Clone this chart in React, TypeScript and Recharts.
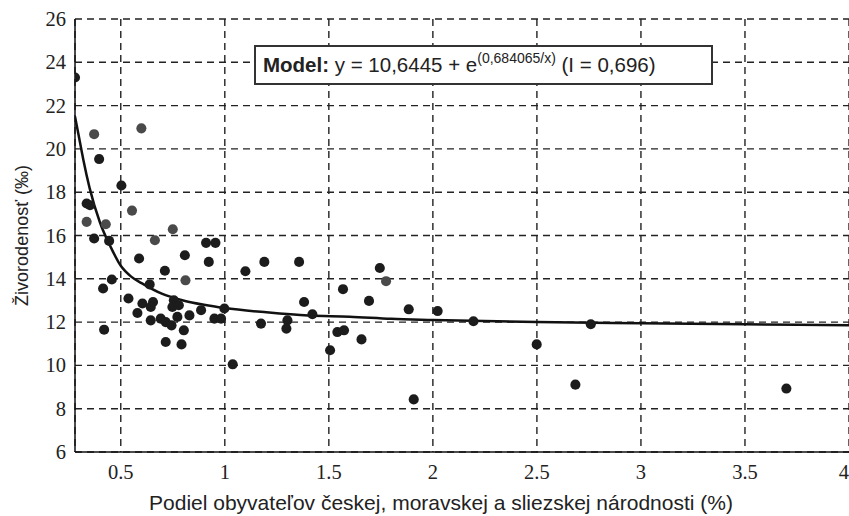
import React from 'react';
import {
  ComposedChart,
  Scatter,
  Line,
  XAxis,
  YAxis,
  ZAxis,
  CartesianGrid,
} from 'recharts';

// okresy - tmavé body
const darkX = [
  0.28, 0.396, 0.503, 0.336, 0.352, 0.372, 0.444, 0.91, 0.955, 0.588, 0.808, 0.923,
  1.19, 1.357, 0.712, 1.099, 0.457, 0.415, 0.639, 1.568, 0.537, 0.604, 0.655, 0.644,
  0.58, 0.755, 0.748, 0.779, 0.644, 0.692, 0.716, 0.772, 0.744, 0.803, 0.83, 0.42,
  0.716, 0.792, 0.886, 0.998, 0.95, 0.982, 1.174, 1.381, 1.421, 1.301, 1.296, 1.541,
  1.573, 1.506, 1.038, 1.745, 1.693, 1.884, 2.023, 2.195, 1.657, 1.908, 2.499, 2.685,
  2.759, 3.699,
];
const darkY = [
  23.3, 19.53, 18.31, 17.48, 17.4, 15.86, 15.75, 15.66, 15.66, 14.94, 15.09, 14.78,
  14.78, 14.78, 14.37, 14.35, 13.97, 13.55, 13.74, 13.52, 13.09, 12.86, 12.93, 12.7,
  12.42, 13.01, 12.7, 12.78, 12.08, 12.16, 12.0, 12.24, 11.85, 11.62, 12.31, 11.65,
  11.08, 10.97, 12.55, 12.63, 12.16, 12.16, 11.93, 12.93, 12.36, 12.08, 11.7, 11.54,
  11.62, 10.7, 10.05, 14.5, 12.98, 12.59, 12.51, 12.04, 11.2, 8.43, 10.97, 9.11,
  11.9, 8.93,
];

// svetlejšie body
const grayX = [0.372, 0.599, 0.554, 0.336, 0.428, 0.75, 0.664, 0.811, 1.775];
const grayY = [20.68, 20.95, 17.15, 16.63, 16.52, 16.29, 15.78, 13.93, 13.89];

// krivka modelu odčítaná z grafu
const curveX = [0.28, 0.3, 0.32, 0.35, 0.4, 0.45, 0.5, 0.55, 0.6, 0.7, 0.8, 0.9, 1.0, 1.2, 1.4, 1.6, 1.8, 2.0, 2.5, 3.0, 3.5, 4.0];
const curveY = [21.5, 20.5, 19.5, 18.2, 16.6, 15.5, 14.6, 14.1, 13.8, 13.3, 13.0, 12.8, 12.65, 12.45, 12.3, 12.25, 12.15, 12.1, 12.0, 11.95, 11.9, 11.85];

const xTicks = [0.5, 1, 1.5, 2, 2.5, 3, 3.5, 4];
const yTicks = [6, 8, 10, 12, 14, 16, 18, 20, 22, 24, 26];

const darkPoints = darkX.map((x, i) => ({ x, y: darkY[i] }));
const grayPoints = grayX.map((x, i) => ({ x, y: grayY[i] }));
const curve = curveX.map((x, i) => ({ x, y: curveY[i] }));

const tickFont = "'Liberation Serif', 'Times New Roman', serif";
const sans = 'Liberation Sans';

const XTick = (props: any) => {
  const { x, y, payload } = props;
  const last = payload.value === xTicks[xTicks.length - 1];
  return (
    <g>
      <text
        x={last ? 849 : x}
        y={y + 15}
        textAnchor={last ? 'end' : 'middle'}
        style={{ fontFamily: tickFont, fontSize: 20.5, fill: '#222' }}
      >
        {payload.value}
      </text>
    </g>
  );
};

const YTick = (props: any) => {
  const { x, y, payload } = props;
  return (
    <g>
      <text x={x} y={y + 7} textAnchor="end" style={{ fontFamily: tickFont, fontSize: 20.5, fill: '#222' }}>
        {payload.value}
      </text>
    </g>
  );
};

export default function App() {
  return (
    <div style={{ position: 'absolute', left: 0, top: 0, width: 849, height: 516, background: '#fff' }}>
      <ComposedChart width={849} height={516} margin={{ top: 19, right: 0, bottom: 0, left: 0 }}>
        <CartesianGrid stroke="#222" strokeWidth={1.4} strokeDasharray="7 5" />
        <XAxis
          type="number"
          dataKey="x"
          domain={[0.28, 4]}
          ticks={xTicks}
          interval={0}
          allowDataOverflow
          height={64}
          tickLine={false}
          tickSize={0}
          tickMargin={12}
          axisLine={{ stroke: '#111', strokeWidth: 1.5 }}
          tick={XTick}
          label={{
            value: 'Podiel obyvateľov českej, moravskej a sliezskej národnosti (%)',
            position: 'insideBottom',
            offset: 6,
            dx: -21,
            style: { fontFamily: sans, fontSize: 21, fill: '#222' },
          }}
        />
        <YAxis
          type="number"
          dataKey="y"
          domain={[6, 26]}
          ticks={yTicks}
          interval={0}
          allowDataOverflow
          width={75}
          tickLine={false}
          tickSize={0}
          tickMargin={9}
          axisLine={{ stroke: '#111', strokeWidth: 1.5 }}
          tick={YTick}
          label={{
            value: 'Živorodenosť (‰)',
            angle: -90,
            position: 'insideLeft',
            offset: 22,
            style: { textAnchor: 'middle', fontFamily: sans, fontSize: 18, fill: '#222' },
          }}
        />
        <ZAxis range={[80, 80]} />
        <Line
          data={curve}
          dataKey="y"
          type="monotone"
          stroke="#111"
          strokeWidth={2.5}
          dot={false}
          activeDot={false}
          isAnimationActive={false}
        />
        <Scatter data={grayPoints} fill="#4a4a4a" isAnimationActive={false} />
        <Scatter data={darkPoints} fill="#1c1c1c" isAnimationActive={false} />
      </ComposedChart>
      {/* rámček s modelom */}
      <div
        style={{
          position: 'absolute',
          left: 254,
          top: 45,
          width: 459,
          height: 40,
          boxSizing: 'border-box',
          border: '2px solid #333',
          background: '#fff',
          fontFamily: sans,
          fontSize: 20.5,
          color: '#222',
          paddingLeft: 7,
          lineHeight: '36px',
          whiteSpace: 'nowrap',
        }}
      >
        <b>Model:</b> y = 10,6445 + e
        <span style={{ fontSize: 14, position: 'relative', top: -9 }}>(0,684065/x)</span> (I = 0,696)
      </div>
    </div>
  );
}
